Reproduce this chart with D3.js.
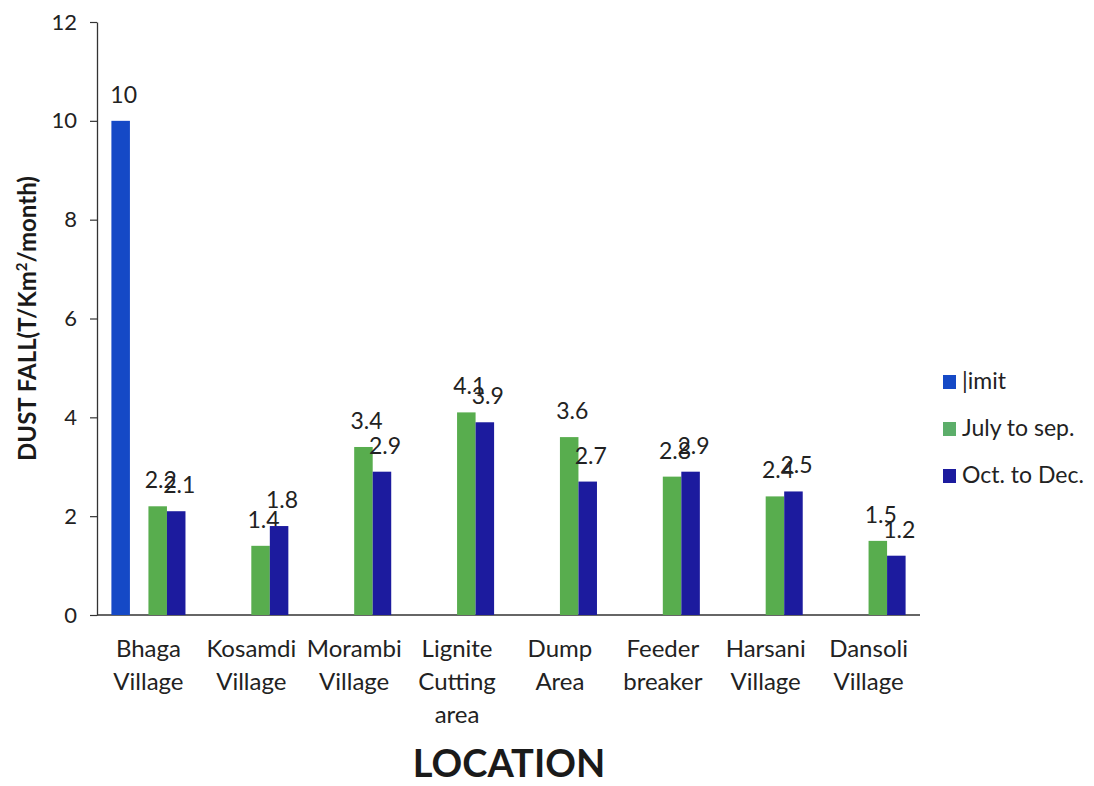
<!DOCTYPE html>
<html>
<head>
<meta charset="utf-8">
<script src="https://cdn.jsdelivr.net/npm/d3@7"></script>
<style>
  body { margin: 0; background: #fff; }
  svg { display: block; font-family: Lato, "Open Sans", sans-serif; }
</style>
</head>
<body>
<svg id="chart" width="1094" height="786"></svg>
<script>
// Dust fall monitoring per location
const locations = [
  ["Bhaga", "Village"],
  ["Kosamdi", "Village"],
  ["Morambi", "Village"],
  ["Lignite", "Cutting", "area"],
  ["Dump", "Area"],
  ["Feeder", "breaker"],
  ["Harsani", "Village"],
  ["Dansoli", "Village"]
];
const limitValues = [10, 0, 0, 0, 0, 0, 0, 0];
const julySepValues = [2.2, 1.4, 3.4, 4.1, 3.6, 2.8, 2.4, 1.5];
const octDecValues = [2.1, 1.8, 2.9, 3.9, 2.7, 2.9, 2.5, 1.2];
const seriesNames = ["limit", "July to sep.", "Oct. to Dec."];
const legendLabels = ["|imit", "July to sep.", "Oct. to Dec."];
const seriesColors = ["#1549c6", "#58ad4e", "#1c1b9e"];
const legendColors = ["#1549c6", "#5cae6a", "#1c1b9e"];
const yTicks = [0, 2, 4, 6, 8, 10, 12];

const series = [limitValues, julySepValues, octDecValues];

const svg = d3.select("#chart");
const margin = { left: 97, right: 174, top: 22, bottom: 171 };
const W = 1094, H = 786;

const x0 = d3.scaleBand()
  .domain(d3.range(locations.length))
  .range([margin.left, W - margin.right])
  .paddingInner(0.28).paddingOuter(0.14);

// slot layout inside each group: limit, spacer, two seasonal bars
const slots = ["limit", "spacer", "July to sep.", "Oct. to Dec."];
const x1 = d3.scaleBand().domain(slots).range([0, x0.bandwidth()]);

const y = d3.scaleLinear().domain([0, 12]).range([H - margin.bottom, margin.top]);

// y axis
const yAxis = d3.axisLeft(y).tickValues(yTicks).tickSize(7).tickSizeOuter(0).tickPadding(13);
const gy = svg.append("g").attr("transform", `translate(${margin.left},0)`).call(yAxis);
gy.select(".domain").attr("stroke", "#333").attr("stroke-width", 1.3);
gy.selectAll(".tick line").attr("stroke", "#333").attr("stroke-width", 1.2);
gy.selectAll(".tick text").attr("font-size", 22).attr("fill", "#222")
  .attr("font-family", "Lato, sans-serif");

// x axis baseline
svg.append("line")
  .attr("x1", margin.left).attr("x2", W - margin.right)
  .attr("y1", y(0)).attr("y2", y(0))
  .attr("stroke", "#333").attr("stroke-width", 1.3);

// bars
const groups = svg.append("g").selectAll("g")
  .data(locations).join("g")
  .attr("transform", (d, i) => `translate(${x0(i)},0)`);

groups.each(function (loc, i) {
  const g = d3.select(this);
  series.forEach((vals, s) => {
    const v = vals[i];
    const bx = x1(seriesNames[s]);
    const bw = x1.bandwidth();
    if (v > 0) {
      g.append("rect")
        .attr("x", bx).attr("width", bw)
        .attr("y", y(v)).attr("height", y(0) - y(v))
        .attr("fill", seriesColors[s]);
      g.append("text")
        .attr("x", bx + bw / 2 + 3)
        .attr("y", y(v) - 18)
        .attr("text-anchor", "middle")
        .attr("font-size", 23)
        .attr("fill", "#222")
        .text(v);
    }
  });
  // category label
  const t = g.append("text")
    .attr("x", x0.bandwidth() / 2)
    .attr("y", y(0) + 42)
    .attr("text-anchor", "middle")
    .attr("font-size", 24)
    .attr("fill", "#222");
  loc.forEach((line, k) => {
    t.append("tspan").attr("x", x0.bandwidth() / 2).attr("dy", k === 0 ? 0 : 33).text(line);
  });
});

// y axis title
svg.append("text")
  .attr("transform", `translate(36,${(y(0) + y(12)) / 2}) rotate(-90)`)
  .attr("text-anchor", "middle")
  .attr("font-size", 24)
  .attr("font-weight", "bold")
  .attr("fill", "#1a1a1a")
  .html('DUST FALL(T/Km<tspan dy="-9" font-size="15">2</tspan><tspan dy="9">/month)</tspan>');

// x axis title
svg.append("text")
  .attr("x", 509).attr("y", 777)
  .attr("text-anchor", "middle")
  .attr("font-size", 38)
  .attr("font-weight", "bold")
  .attr("fill", "#1a1a1a")
  .text("LOCATION");

// legend
const legend = svg.append("g").attr("transform", "translate(943,375)");
legendLabels.forEach((name, i) => {
  const row = legend.append("g").attr("transform", `translate(0,${i * 47})`);
  row.append("rect").attr("x", 0).attr("y", 0).attr("width", 13).attr("height", 14)
    .attr("fill", legendColors[i]);
  row.append("text").attr("x", 19).attr("y", 14)
    .attr("font-size", 23).attr("fill", "#222").text(name);
});
</script>
</body>
</html>
